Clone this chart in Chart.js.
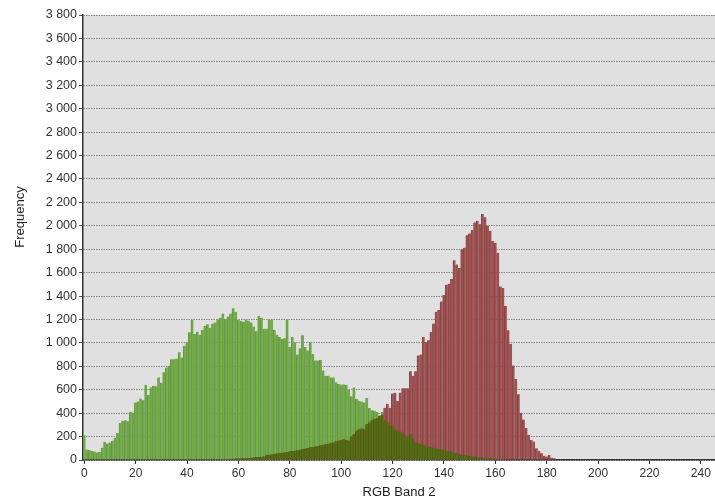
<!DOCTYPE html>
<html>
<head>
<meta charset="utf-8">
<script src="https://cdn.jsdelivr.net/npm/chart.js@4"></script>
<style>
  html, body { margin: 0; padding: 0; background: #fff; }
</style>
</head>
<body>
<canvas id="histChart" width="715" height="503"></canvas>
<script>
// histogram counts per band value (index = value)
const green = [
  212, 90, 85, 78, 72, 65, 68, 105, 155, 140,
  150, 165, 190, 230, 315, 335, 340, 330, 410, 405,
  490, 500, 525, 510, 640, 555, 620, 635, 630, 705,
  660, 750, 790, 805, 860, 860, 865, 920, 875, 975,
  1005, 1090, 1195, 1075, 1095, 1070, 1110, 1145, 1160, 1130,
  1165, 1175, 1200, 1215, 1250, 1205, 1225, 1250, 1295, 1265,
  1195, 1190, 1180, 1200, 1190, 1175, 1140, 1100, 1230, 1215,
  1120, 1120, 1200, 1200, 1110, 1070, 1050, 1035, 1040, 1200,
  965, 1050, 1005, 900, 955, 1065, 965, 935, 1005, 905,
  850, 850, 855, 765, 720, 720, 705, 705, 665, 650,
  645, 645, 640, 600, 545, 620, 520, 505, 500, 490,
  530, 445, 425, 420, 410, 375, 410, 343, 320, 300,
  291, 262, 250, 243, 233, 210, 200, 219, 186, 150,
  146, 135, 131, 117, 114, 110, 105, 102, 95, 90,
  87, 80, 75, 70, 62, 58, 50, 45, 44, 40,
  35, 30, 28, 25, 22, 20, 18, 15, 14, 12,
  10, 10, 8, 6, 5, 4
];

const redStart = 51; // first band value of the red series
const red = [
  3, 4, 5, 6, 8, 9,
  10, 10, 12, 12, 14, 15, 16, 18, 20, 22,
  25, 26, 28, 30, 40, 44, 46, 52, 55, 58,
  62, 65, 68, 73, 76, 80, 84, 87, 92, 96,
  102, 108, 112, 115, 118, 125, 130, 135, 138, 146,
  150, 160, 165, 168, 178, 168, 165, 200, 219, 250,
  262, 270, 262, 306, 320, 340, 350, 357, 379, 386,
  446, 480, 446, 567, 575, 504, 575, 613, 613, 613,
  757, 719, 757, 892, 901, 1050, 1007, 1022, 1094, 1165,
  1266, 1281, 1353, 1410, 1496, 1505, 1545, 1706, 1669, 1640,
  1799, 1813, 1919, 1935, 1965, 2029, 2043, 2014, 2101, 2072,
  2000, 1957, 1871, 1856, 1770, 1482, 1468, 1315, 1108, 993,
  806, 691, 561, 403, 345, 273, 216, 173, 158, 101,
  78, 58, 37, 29, 43, 20, 14
];

const xTicks = [0, 20, 40, 60, 80, 100, 120, 140, 160, 180, 200, 220, 240];
const yMax = 3800;
const yStep = 200;
const yTitle = 'Frequency';
const xTitle = 'RGB Band 2';

// build point lists
const nBins = redStart + red.length;
const greenPts = [], redPts = [], overlapPts = [];
for (let i = 0; i < nBins; i++) {
  const g = green[i] || 0;
  const r = i >= redStart ? red[i - redStart] : 0;
  greenPts.push({ x: i, y: g });
  redPts.push({ x: i, y: r });
  overlapPts.push({ x: i, y: Math.min(g, r) });
}

function fmt(v) {
  return String(v).replace(/\B(?=(\d{3})+(?!\d))/g, ' ');
}

const plotBackground = {
  id: 'plotBackground',
  beforeDraw(chart) {
    const { ctx, chartArea: a } = chart;
    ctx.save();
    ctx.fillStyle = '#e0e0e0';
    ctx.fillRect(a.left, a.top, a.right - a.left, a.bottom - a.top);
    ctx.restore();
  }
};

// y title sits a bit above the plot centre in the original
const yTitlePlugin = {
  id: 'yTitlePlugin',
  afterDraw(chart) {
    const ctx = chart.ctx;
    ctx.save();
    ctx.translate(20, 217);
    ctx.rotate(-Math.PI / 2);
    ctx.font = '13px "Liberation Sans", Arial';
    ctx.fillStyle = '#222';
    ctx.textAlign = 'center';
    ctx.textBaseline = 'middle';
    ctx.fillText(yTitle, 0, 0);
    ctx.restore();
  }
};

const barCommon = {
  barPercentage: 1,
  categoryPercentage: 1,
  grouped: false,
  borderWidth: { left: 1, right: 0, top: 0, bottom: 0 },
  borderSkipped: false
};

const ctx = document.getElementById('histChart').getContext('2d');
new Chart(ctx, {
  type: 'bar',
  data: {
    datasets: [
      Object.assign({ label: 'overlap', data: overlapPts, backgroundColor: '#566c16', borderColor: '#4b600f', order: 0 }, barCommon),
      Object.assign({ label: 'red', data: redPts, backgroundColor: '#9e5252', borderColor: '#8a4242', order: 1 }, barCommon),
      Object.assign({ label: 'green', data: greenPts, backgroundColor: '#73aa4c', borderColor: '#61983c', order: 2 }, barCommon)
    ]
  },
  options: {
    responsive: false,
    animation: false,
    layout: { padding: { top: 15, right: 0, bottom: 0, left: 0 } },
    plugins: {
      legend: { display: false },
      tooltip: { enabled: false }
    },
    scales: {
      x: {
        type: 'linear',
        offset: false,
        min: -0.5,
        max: 245.5,
        afterBuildTicks: s => { s.ticks = xTicks.map(v => ({ value: v })); },
        ticks: {
          includeBounds: false,
          color: '#333',
          padding: 2,
          maxRotation: 0,
          font: { family: 'Liberation Sans, Arial', size: 12 }
        },
        grid: { offset: false, drawOnChartArea: false, tickLength: 4, color: '#333' },
        border: { display: true, color: '#333', width: 1.5 },
        title: {
          display: true,
          text: xTitle,
          color: '#222',
          padding: { top: 2, bottom: 3 },
          font: { family: 'Liberation Sans, Arial', size: 13 }
        }
      },
      y: {
        min: 0,
        max: yMax,
        z: 1,
        afterFit: s => { s.width = 83; },
        ticks: {
          stepSize: yStep,
          color: '#333',
          padding: 2,
          callback: v => fmt(v),
          font: { family: 'Liberation Sans, Arial', size: 12.5 }
        },
        grid: {
          color: '#858585',
          tickLength: 4,
          tickColor: '#555',
          tickBorderDash: []
        },
        border: { display: true, color: '#333', width: 1.5, dash: [1.5, 1] },
        title: { display: false }
      }
    }
  },
  plugins: [plotBackground, yTitlePlugin]
});
</script>
</body>
</html>
